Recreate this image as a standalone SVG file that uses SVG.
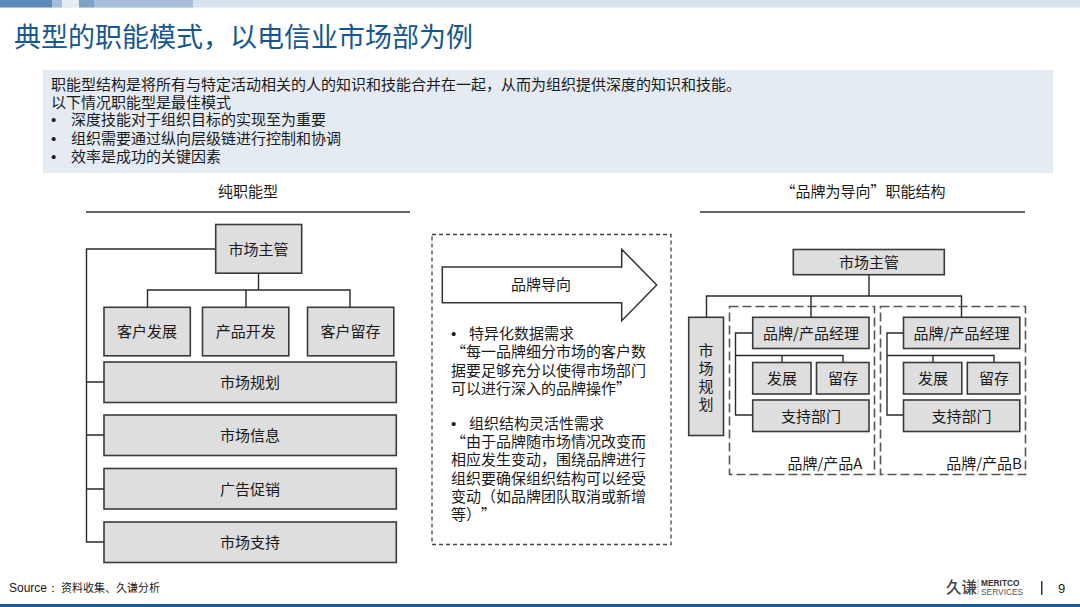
<svg xmlns="http://www.w3.org/2000/svg" width="1080" height="607" viewBox="0 0 1080 607">
<style>
text{font-family:"Noto Sans CJK SC","Liberation Sans",sans-serif;fill:#1a1a1a;text-spacing-trim:space-all}
.t{font-size:15px}
.c{font-size:15px;text-anchor:middle}
.u{font-size:15px;font-family:"Liberation Sans",sans-serif}
.m{font-family:"Liberation Sans",sans-serif}
.b{fill:#dedede;stroke:#3a3a3a;stroke-width:1.6}
.l{fill:none;stroke:#2a2a2a;stroke-width:1.4}
.d{fill:none;stroke:#555;stroke-width:1.6;stroke-dasharray:9 4}
</style>
<rect width="1080" height="607" fill="#fff"/>
<g id="header">
<rect x="0" y="0" width="1080" height="7.5" fill="#d6e2ee"/>
<rect x="0" y="0" width="52" height="7.5" fill="#5f8ab8"/>
<rect x="52" y="0" width="10" height="7.5" fill="#a5bed8"/>
<rect x="62" y="0" width="17" height="7.5" fill="#e3ebf3"/>
<rect x="79" y="0" width="15" height="7.5" fill="#7ea2c6"/>
<rect x="94" y="0" width="99" height="7.5" fill="#a6bfd8"/>
<rect x="0" y="604" width="1080" height="3" fill="#1c5a94"/>
</g>
<text x="14" y="47" style="font-size:27px;fill:#17578f">典型的职能模式，以电信业市场部为例</text>
<g id="callout">
<rect x="43" y="70" width="1010" height="103" fill="#e4ebf3"/>
<text class="t" x="51" y="90">职能型结构是将所有与特定活动相关的人的知识和技能合并在一起，从而为组织提供深度的知识和技能。</text>
<text class="t" x="51" y="108">以下情况职能型是最佳模式</text>
<text class="u" x="51" y="125">•</text><text class="t" x="71" y="125">深度技能对于组织目标的实现至为重要</text>
<text class="u" x="51" y="144">•</text><text class="t" x="71" y="144">组织需要通过纵向层级链进行控制和协调</text>
<text class="u" x="51" y="162">•</text><text class="t" x="71" y="162">效率是成功的关键因素</text>
</g>
<g id="headings">
<text class="c" x="248" y="197">纯职能型</text>
<text class="c" x="863" y="197">“品牌为导向”职能结构</text>
<path d="M86 212H410M700 212H1025" stroke="#333" stroke-width="1.3" fill="none"/>
</g>
<g id="connectors">
<path class="l" d="M216 249H86.5V542H104M86.5 382H104M86.5 435H104M86.5 489H104"/>
<path class="l" d="M258.500 273V290M147.500 307V290H350V307M246 290V307"/>
<path class="l" d="M869 275V296M706.500 317V296H961.500V317M811 296V317"/>
<path class="l" d="M753 333H735.500V415H753M735.500 355.500H843V362M782 355.500V362"/>
<path class="l" d="M904 333H887V415H904M887 355.500H994V362M933 355.500V362"/>
</g>
<g id="n-boss"><rect class="b" x="215.700" y="224.500" width="86" height="48.700"/><text class="c" x="258.500" y="254.500">市场主管</text></g>
<g id="n-dev"><rect class="b" x="104" y="307.300" width="86.300" height="48.500"/><text class="c" x="147" y="337">客户发展</text></g>
<g id="n-prod"><rect class="b" x="202.500" y="307.300" width="86.300" height="48.500"/><text class="c" x="245.700" y="337">产品开发</text></g>
<g id="n-keep"><rect class="b" x="307.500" y="307.300" width="86.300" height="48.500"/><text class="c" x="350.500" y="337">客户留存</text></g>
<g id="n-plan"><rect class="b" x="104" y="362" width="292.300" height="40.500"/><text class="c" x="250" y="388">市场规划</text></g>
<g id="n-info"><rect class="b" x="104" y="415" width="292.300" height="40.500"/><text class="c" x="250" y="441">市场信息</text></g>
<g id="n-ad"><rect class="b" x="104" y="468.500" width="292.300" height="40.500"/><text class="c" x="250" y="495">广告促销</text></g>
<g id="n-sup"><rect class="b" x="104" y="522" width="292.300" height="40.500"/><text class="c" x="250" y="548">市场支持</text></g>
<g id="middle">
<rect x="432" y="234.500" width="239" height="310" fill="none" stroke="#444" stroke-width="1.3" stroke-dasharray="4 3"/>
<path d="M442.300 267H621.700V249.300L656.700 285L621.700 320.700V302.700H442.300Z" fill="#fff" stroke="#333" stroke-width="1.5"/>
<text class="c" x="541" y="290">品牌导向</text>
<text class="u" x="451" y="339">•</text><text class="t" x="469" y="339">特异化数据需求</text>
<text class="t" x="451" y="357">  “每一品牌细分市场的客户数</text>
<text class="t" x="451" y="375.500">据要足够充分以使得市场部门</text>
<text class="t" x="451" y="393.500">可以进行深入的品牌操作”</text>
<text class="u" x="451" y="429">•</text><text class="t" x="469" y="429">组织结构灵活性需求</text>
<text class="t" x="451" y="447">  “由于品牌随市场情况改变而</text>
<text class="t" x="451" y="465">相应发生变动，围绕品牌进行</text>
<text class="t" x="451" y="484">组织要确保组织结构可以经受</text>
<text class="t" x="451" y="502">变动（如品牌团队取消或新增</text>
<text class="t" x="451" y="520">等）”</text>
</g>
<g id="n-top2"><rect class="b" x="793.300" y="249.500" width="151" height="25.200"/><text class="c" x="869" y="267.500">市场主管</text></g>
<g id="n-plan2"><rect class="b" x="688.700" y="317.300" width="34.800" height="118.200"/><text class="c" x="706" y="356">市</text><text class="c" x="706" y="374">场</text><text class="c" x="706" y="392">规</text><text class="c" x="706" y="410">划</text></g>
<g id="dash-a"><rect class="d" x="729.500" y="306.500" width="145" height="168"/><text class="c" x="825" y="469">品牌/产品A</text></g>
<g id="dash-b"><rect class="d" x="880.500" y="306.500" width="145" height="168"/><text class="c" x="984" y="469">品牌/产品B</text></g>
<g id="n-a-mgr"><rect class="b" x="752.700" y="317.300" width="116.300" height="31.200"/><text class="c" x="811" y="339">品牌/产品经理</text></g>
<g id="n-a-dev"><rect class="b" x="752.700" y="362.500" width="58.300" height="31.500"/><text class="c" x="782" y="384">发展</text></g>
<g id="n-a-keep"><rect class="b" x="816.500" y="362.500" width="52.500" height="31.500"/><text class="c" x="843" y="384">留存</text></g>
<g id="n-a-sup"><rect class="b" x="752.700" y="400" width="116.300" height="31.500"/><text class="c" x="811" y="422">支持部门</text></g>
<g id="n-b-mgr"><rect class="b" x="903.500" y="317.300" width="116.300" height="31.200"/><text class="c" x="961.500" y="339">品牌/产品经理</text></g>
<g id="n-b-dev"><rect class="b" x="903.500" y="362.500" width="58.300" height="31.500"/><text class="c" x="933" y="384">发展</text></g>
<g id="n-b-keep"><rect class="b" x="967.300" y="362.500" width="52.500" height="31.500"/><text class="c" x="994" y="384">留存</text></g>
<g id="n-b-sup"><rect class="b" x="903.500" y="400" width="116.300" height="31.500"/><text class="c" x="961.500" y="422">支持部门</text></g>
<g id="footer">
<text class="m" x="9" y="592" style="font-size:12px">Source：</text>
<text x="61" y="592" style="font-size:11px">资料收集、久谦分析</text>
<text x="946" y="593" style="font-size:15.500px;fill:#444;font-weight:500">久谦</text>
<rect x="977.500" y="579" width="1" height="16" fill="#d8b8b8"/>
<text class="m" x="981" y="586" style="font-size:8.400px;fill:#333;font-weight:700">MERITCO</text>
<text class="m" x="981" y="595" style="font-size:8.400px;fill:#555">SERVICES</text>
<rect x="1041" y="581" width="1.500" height="14" fill="#333"/>
<text class="m" x="1058" y="593" style="font-size:13px">9</text>
</g>
</svg>
